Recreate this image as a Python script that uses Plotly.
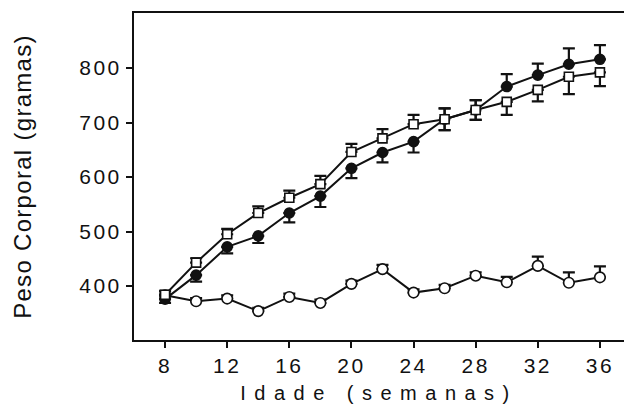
import plotly.graph_objects as go

weeks = [8, 10, 12, 14, 16, 18, 20, 22, 24, 26, 28, 30, 32, 34, 36]

# open squares
sq_mean = [384, 443, 495, 534, 562, 587, 646, 671, 697, 706, 723, 738, 760, 784, 792]
sq_up   = [7, 8, 10, 12, 13, 15, 15, 17, 17, 20, 18, 0, 0, 0, 0]
sq_dn   = [0, 0, 0, 0, 0, 0, 0, 0, 0, 20, 18, 24, 21, 32, 25]

# filled circles
fc_mean = [376, 420, 472, 492, 534, 565, 616, 645, 665, 706, 723, 766, 787, 807, 816]
fc_up   = [0, 0, 0, 0, 0, 0, 0, 0, 0, 20, 18, 23, 21, 29, 26]
fc_dn   = [7, 12, 12, 13, 17, 20, 18, 18, 20, 20, 18, 0, 0, 0, 0]

# open circles (control)
oc_mean = [383, 372, 377, 354, 380, 369, 404, 431, 388, 396, 419, 407, 437, 406, 416]
oc_up   = [7, 6, 6, 6, 6, 6, 6, 8, 6, 6, 6, 10, 17, 19, 20]

x_ticks = [8, 12, 16, 20, 24, 28, 32, 36]
y_ticks = [400, 500, 600, 700, 800]

INK = "#111111"
FONT = "Liberation Sans, Arial, sans-serif"

fig = go.Figure()

def add(mean, up, dn, symbol, fill, size):
    fig.add_trace(go.Scatter(
        x=weeks, y=mean, mode="lines+markers",
        line=dict(color=INK, width=2),
        marker=dict(symbol=symbol, size=size, color=fill,
                    line=dict(color=INK, width=1.6)),
        error_y=dict(type="data", symmetric=False, array=up, arrayminus=dn,
                     color=INK, thickness=2.2, width=6),
        showlegend=False,
    ))

add(oc_mean, oc_up, [0] * len(weeks), "circle", "white", 10.5)
add(fc_mean, fc_up, fc_dn, "circle", INK, 10)
add(sq_mean, sq_up, sq_dn, "square", "white", 9)

fig.update_layout(
    width=624, height=406,
    margin=dict(l=134, r=0, t=13, b=66),
    paper_bgcolor="white", plot_bgcolor="white",
    font=dict(family=FONT, color=INK),
)
fig.update_xaxes(
    range=[6, 37.55], tickvals=x_ticks, ticks="outside", ticklen=6,
    tickwidth=1.5, tickcolor=INK, showline=True, linewidth=2, linecolor=INK,
    mirror=True, showgrid=False, zeroline=False,
    tickfont=dict(size=21, family=FONT, color=INK),
    title=dict(text="Idade (semanas)", font=dict(size=20, family=FONT, color=INK), standoff=10),
)
fig.update_yaxes(
    range=[301, 901], tickvals=y_ticks, ticks="outside", ticklen=6,
    tickwidth=1.5, tickcolor=INK, showline=True, linewidth=2, linecolor=INK,
    showgrid=False, zeroline=False,
    tickfont=dict(size=21, family=FONT, color=INK),
    title=dict(text="Peso Corporal (gramas)", font=dict(size=24, family=FONT, color=INK), standoff=48),
)

css = (
    ".xtick text, .ytick text { letter-spacing: 2.5px; }"
    ".xtitle { letter-spacing: 8.5px; }"
    ".ytitle { letter-spacing: 1.3px; }"
)
post = ("var s=document.createElement('style');s.textContent=" + repr(css) +
        ";document.head.appendChild(s);")

fig.write_html("out.html", post_script=post)
